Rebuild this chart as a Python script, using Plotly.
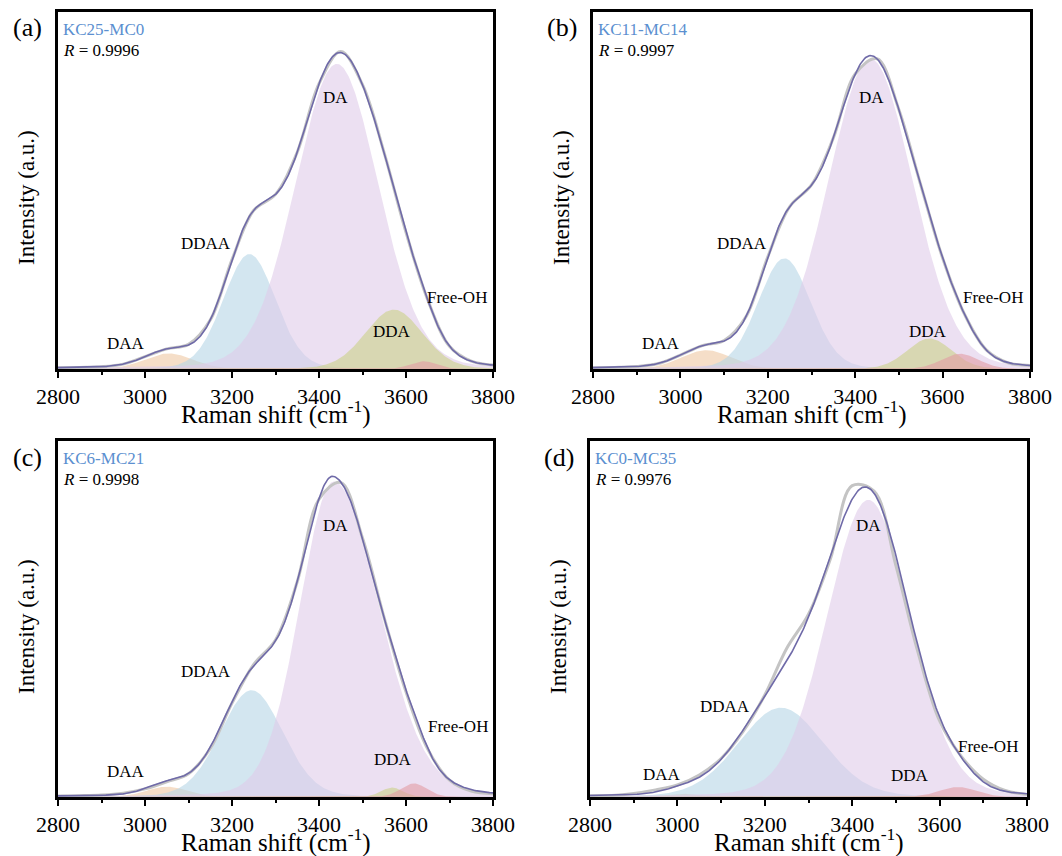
import numpy as np
import plotly.graph_objects as go

# ---- data -------------------------------------------------------------
samples = ["KC25-MC0", "KC11-MC14", "KC6-MC21", "KC0-MC35"]
panel_tags = ["(a)", "(b)", "(c)", "(d)"]
r_values = ["0.9996", "0.9997", "0.9998", "0.9976"]

band_names = ["DAA", "DDAA", "DA", "DDA", "Free-OH"]

# fitted band parameters per sample:
# centre (cm-1), low-side FWHM, high-side FWHM (cm-1), height (norm.)
centers_a = [3055, 3240, 3441, 3572, 3640]
fwhm_lo_a = [130, 142, 225, 155, 70]
fwhm_hi_a = [130, 142, 225, 155, 70]
height_a = [0.048, 0.354, 0.940, 0.183, 0.024]

centers_b = [3059, 3238, 3435, 3570, 3640]
fwhm_lo_b = [135, 142, 228, 120, 100]
fwhm_hi_b = [135, 142, 228, 120, 100]
height_b = [0.058, 0.341, 0.956, 0.094, 0.047]

centers_c = [3050, 3245, 3434, 3568, 3618]
fwhm_lo_c = [110, 170, 185, 60, 70]
fwhm_hi_c = [110, 170, 245, 60, 70]
height_c = [0.032, 0.330, 0.975, 0.029, 0.042]

centers_d = [3010, 3237, 3437, 3570, 3642]
fwhm_lo_d = [100, 230, 225, 60, 100]
fwhm_hi_d = [100, 230, 225, 60, 100]
height_d = [0.010, 0.276, 0.918, 0.005, 0.031]

# Lorentzian fraction of the pseudo-Voigt band shape
lorentz_frac = 0.1

# measured spectra (normalised), sampled every 50 cm-1 from 2800 to 3800
shift_meas = [2800, 2850, 2900, 2950, 3000, 3050, 3100, 3150, 3200, 3250, 3300,
              3350, 3400, 3450, 3500, 3550, 3600, 3650, 3700, 3750, 3800]
meas_a = [0.004, 0.005, 0.007, 0.015, 0.038, 0.062, 0.076, 0.151, 0.337, 0.489, 0.538,
          0.668, 0.879, 0.978, 0.876, 0.665, 0.421, 0.213, 0.070, 0.024, 0.012]
meas_b = [0.004, 0.005, 0.008, 0.017, 0.043, 0.072, 0.088, 0.161, 0.346, 0.500, 0.567,
          0.712, 0.909, 0.956, 0.799, 0.567, 0.342, 0.169, 0.059, 0.019, 0.011]
meas_c = [0.003, 0.004, 0.006, 0.012, 0.025, 0.047, 0.072, 0.150, 0.290, 0.410, 0.485,
          0.665, 0.920, 0.972, 0.800, 0.553, 0.325, 0.148, 0.052, 0.018, 0.010]
meas_d = [0.004, 0.005, 0.011, 0.022, 0.037, 0.068, 0.119, 0.202, 0.315, 0.459, 0.565,
          0.735, 0.962, 0.945, 0.715, 0.450, 0.235, 0.125, 0.055, 0.020, 0.008]

# peak label positions (cm-1, intensity)
label_x_a = [2956, 3140, 3437, 3568, 3717]
label_y_a = [0.080, 0.388, 0.838, 0.114, 0.219]
label_x_b = [2956, 3141, 3438, 3567, 3715]
label_y_b = [0.080, 0.388, 0.838, 0.117, 0.219]
label_x_c = [2956, 3140, 3437, 3570, 3720]
label_y_c = [0.080, 0.388, 0.838, 0.117, 0.219]
label_x_d = [2965, 3109, 3438, 3532, 3711]
label_y_d = [0.068, 0.280, 0.838, 0.065, 0.157]

panels = [
    (centers_a, fwhm_lo_a, fwhm_hi_a, height_a, meas_a, label_x_a, label_y_a),
    (centers_b, fwhm_lo_b, fwhm_hi_b, height_b, meas_b, label_x_b, label_y_b),
    (centers_c, fwhm_lo_c, fwhm_hi_c, height_c, meas_c, label_x_c, label_y_c),
    (centers_d, fwhm_lo_d, fwhm_hi_d, height_d, meas_d, label_x_d, label_y_d),
]

# ---- styling ------------------------------------------------------------
band_fill = [
    "rgba(238,200,163,0.6)",   # DAA
    "rgba(182,213,230,0.6)",   # DDAA
    "rgba(223,203,233,0.6)",   # DA
    "rgba(204,208,135,0.6)",   # DDA
    "rgba(227,155,163,0.6)",   # Free-OH
]
fit_color = "#6f6aa8"
meas_color = "#c4c4c4"
name_color = "#5b8fd0"
FONT = "Liberation Serif"

W, H = 1062, 856
# plot-area boxes in pixels: (left, right, top, bottom)
boxes = [(58, 493, 12, 369), (593, 1030, 12, 369),
         (58, 493, 441, 797), (590, 1027, 441, 797)]

shift = np.arange(2800, 3801, 2)


def band(x, c, w_lo, w_hi, h):
    w = np.where(x < c, w_lo, w_hi)
    g = np.exp(-4 * np.log(2) * (x - c) ** 2 / w ** 2)
    l = 1.0 / (1.0 + ((x - c) / (w / 2)) ** 2)
    return h * (lorentz_frac * l + (1 - lorentz_frac) * g)


fig = go.Figure()
annotations = []

for i, (cen, wlo, whi, hts, meas, lx, ly) in enumerate(panels):
    xa = "x" if i == 0 else f"x{i + 1}"
    ya = "y" if i == 0 else f"y{i + 1}"
    total = np.zeros_like(shift, dtype=float)
    for k in range(len(band_names)):
        comp = band(shift, cen[k], wlo[k], whi[k], hts[k])
        total += comp
        fig.add_trace(go.Scatter(
            x=shift, y=comp, mode="lines", line=dict(width=0),
            fill="tozeroy", fillcolor=band_fill[k],
            xaxis=xa, yaxis=ya, showlegend=False, hoverinfo="skip"))
    fig.add_trace(go.Scatter(
        x=shift_meas, y=meas, mode="lines",
        line=dict(color=meas_color, width=3, shape="spline"),
        xaxis=xa, yaxis=ya, showlegend=False))
    fig.add_trace(go.Scatter(
        x=shift, y=total, mode="lines", line=dict(color=fit_color, width=1.6),
        xaxis=xa, yaxis=ya, showlegend=False))

    for k, nm in enumerate(band_names):
        annotations.append(dict(
            x=lx[k], y=ly[k], xref=xa, yref=ya, text=nm, showarrow=False,
            font=dict(family=FONT, size=17, color="black")))

    l, r, t, b = boxes[i]
    # panel letter
    annotations.append(dict(
        x=(l - 31) / W, y=1 - (t + 16) / H, xref="paper", yref="paper",
        text=panel_tags[i], showarrow=False, xanchor="center", yanchor="middle",
        font=dict(family=FONT, size=26, color="black")))
    # sample name and correlation coefficient
    annotations.append(dict(
        x=(l + 3) / W, y=1 - (t + 17) / H, xref="paper", yref="paper",
        text=samples[i], showarrow=False, xanchor="left", yanchor="middle",
        font=dict(family=FONT, size=17, color=name_color)))
    annotations.append(dict(
        x=(l + 3) / W, y=1 - (t + 39) / H, xref="paper", yref="paper",
        text=f"<i>R</i> = {r_values[i]}", showarrow=False, xanchor="left", yanchor="middle",
        font=dict(family=FONT, size=17, color="black")))
    # axis titles
    annotations.append(dict(
        x=(l + r) / 2 / W, y=1 - (b + 43) / H, xref="paper", yref="paper",
        text="Raman shift (cm<sup>-1</sup>)", showarrow=False,
        xanchor="center", yanchor="middle",
        font=dict(family=FONT, size=25, color="black")))
    annotations.append(dict(
        x=(l - 32) / W, y=1 - (t + 186) / H, xref="paper", yref="paper",
        text="Intensity (a.u.)", showarrow=False, textangle=-90,
        xanchor="center", yanchor="middle",
        font=dict(family=FONT, size=23, color="black")))

    xkey = "xaxis" if i == 0 else f"xaxis{i + 1}"
    ykey = "yaxis" if i == 0 else f"yaxis{i + 1}"
    fig.update_layout(**{
        xkey: dict(
            domain=[l / W, r / W], anchor=ya, range=[2800, 3800], automargin=False,
            tickmode="linear", tick0=2800, dtick=200,
            ticks="outside", ticklen=6, tickwidth=2, tickcolor="black",
            minor=dict(dtick=100, ticks="outside", ticklen=3, tickwidth=1.5, tickcolor="black"),
            showline=True, linewidth=2.5, linecolor="black", mirror=True,
            showgrid=False, zeroline=False,
            tickfont=dict(family=FONT, size=22, color="black")),
        ykey: dict(
            domain=[1 - b / H, 1 - t / H], anchor=xa, range=[0, 1.1], automargin=False,
            showticklabels=False, ticks="",
            showline=True, linewidth=2.5, linecolor="black", mirror=True,
            showgrid=False, zeroline=False),
    })

fig.update_layout(
    width=W, height=H,
    margin=dict(l=0, r=0, t=0, b=0),
    paper_bgcolor="white", plot_bgcolor="white",
    annotations=annotations,
    showlegend=False,
)

fig.write_html("out.html")
